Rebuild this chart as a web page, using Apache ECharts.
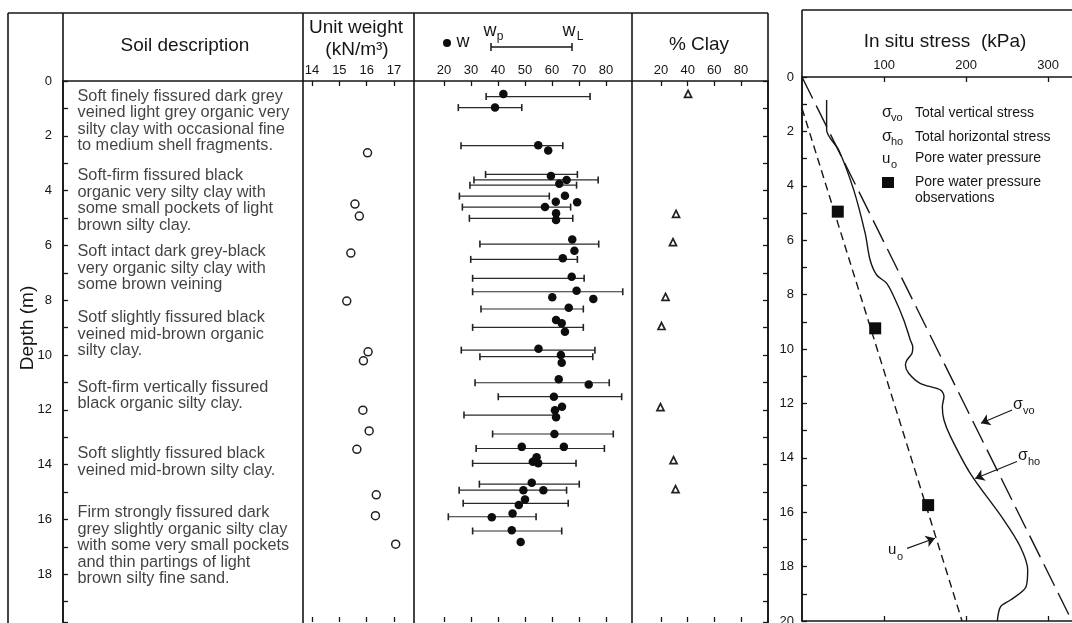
<!DOCTYPE html>
<html>
<head>
<meta charset="utf-8">
<script src="https://cdn.jsdelivr.net/npm/echarts@6/dist/echarts.min.js"></script>
<style>
  html, body { margin: 0; padding: 0; background: #fff; }
  #chart { width: 1072px; height: 623px; }
</style>
</head>
<body>
<div id="chart"></div>
<script>
// ---------- data (depth in m) ----------
const soilLayers = [
  'Soft finely fissured dark grey\nveined light grey organic very\nsilty clay with occasional fine\nto medium shell fragments.',
  'Soft-firm fissured black\norganic very silty clay with\nsome small pockets of light\nbrown silty clay.',
  'Soft intact dark grey-black\nvery organic silty clay with\nsome brown veining',
  'Sotf slightly fissured black\nveined mid-brown organic\nsilty clay.',
  'Soft-firm vertically fissured\nblack organic silty clay.',
  'Soft slightly fissured black\nveined mid-brown silty clay.',
  'Firm strongly fissured dark\ngrey slightly organic silty clay\nwith some very small pockets\nand thin partings of light\nbrown silty fine sand.'
];
const soilLayerTop = [0.28, 3.17, 5.94, 8.35, 10.90, 13.31, 15.47];

const unitWeightDepth = [2.62, 4.49, 4.93, 6.28, 8.03, 9.88, 10.21, 12.01, 12.77, 13.44, 15.10, 15.86, 16.90];
const unitWeight = [16.03, 15.57, 15.73, 15.42, 15.27, 16.05, 15.88, 15.86, 16.09, 15.64, 16.35, 16.32, 17.06];

const limitDepth = [0.57, 0.97, 2.36, 3.41, 3.61, 3.80, 4.20, 4.60, 5.01, 5.95, 6.51, 7.20, 7.69, 8.32,
  8.99, 9.82, 10.06, 11.01, 11.52, 12.19, 12.88, 13.41, 13.95, 14.71, 14.93, 15.41, 15.90, 16.42];
const plasticLimit = [35.6, 25.3, 26.3, 35.4, 31.1, 29.6, 25.7, 26.8, 29.4, 33.3, 29.9, 30.6, 30.6, 33.7,
  30.6, 26.4, 33.3, 31.5, 40.1, 27.4, 38.0, 31.9, 30.6, 33.1, 25.6, 27.1, 21.6, 30.6];
const liquidLimit = [74.1, 48.8, 64.0, 69.4, 77.1, 69.1, 59.0, 66.9, 67.7, 77.3, 69.4, 71.9, 86.2, 71.6,
  71.6, 75.9, 75.1, 81.2, 85.8, 61.7, 82.7, 79.4, 68.9, 70.1, 65.4, 66.0, 54.1, 63.6];

const waterDepth = [0.47, 0.97, 2.34, 2.54, 3.47, 3.61, 3.75, 4.19, 4.41, 4.42, 4.60, 4.83, 5.07, 5.78,
  6.19, 6.47, 7.14, 7.65, 7.89, 7.95, 8.27, 8.72, 8.84, 9.15, 9.77, 10.00, 10.28, 10.88, 11.07, 11.52,
  11.89, 12.01, 12.27, 12.88, 13.35, 13.35, 13.73, 13.95, 13.89, 14.66, 14.93, 14.93, 15.27, 15.47,
  15.78, 15.92, 16.39, 16.82];
const waterContent = [42.0, 38.9, 54.9, 58.6, 59.6, 65.4, 62.7, 64.8, 61.4, 69.3, 57.4, 61.5, 61.5, 67.5,
  68.3, 64.0, 67.3, 69.1, 60.1, 75.3, 66.2, 61.5, 63.6, 64.8, 55.0, 63.3, 63.6, 62.5, 73.6, 60.7,
  63.7, 61.1, 61.5, 60.9, 48.8, 64.4, 54.3, 54.9, 52.9, 52.5, 49.4, 56.8, 50.0, 47.7,
  45.4, 37.7, 45.1, 48.4];

const clayDepth = [0.47, 4.85, 5.88, 7.88, 8.94, 11.90, 13.83, 14.89];
const clayPercent = [40.3, 31.3, 29.0, 23.4, 20.4, 19.6, 29.4, 30.9];

const sigmaVoDepth = [0, 20];
const sigmaVo = [0, 329];
const sigmaHoDepth = [0.85, 1.95, 2.7, 4.15, 5.75, 6.73, 7.28, 7.58, 8.08, 8.93, 9.67, 9.92, 10.16, 10.40,
  10.59, 10.89, 11.26, 11.51, 11.75, 12.12, 12.61, 13.22, 14.57, 16.29, 17.27, 18.12, 18.74, 19.23, 19.47, 20.0];
const sigmaHo = [30, 30, 45, 63, 77, 83, 91, 103, 112, 124, 132, 135, 134, 128,
  126, 130, 144, 169, 173, 171, 173, 181, 205, 246, 266, 275, 273, 254, 242, 238];
const poreDepth = [1.15, 20];
const porePressure = [0, 195];
const obsDepth = [4.95, 9.24, 15.74];
const obsPressure = [43.6, 89.2, 153.7];

const unitWeightTicks = [14, 15, 16, 17];
const waterTicks = [20, 30, 40, 50, 60, 70, 80];
const clayTicks = [20, 40, 60, 80];
const stressTicks = [100, 200, 300];

// ---------- chart ----------
const FONT = '"Liberation Sans", Arial, Helvetica, sans-serif';
const INK = '#161616';
const LEFT_MAX = 19.74;

const chart = echarts.init(document.getElementById('chart'));

const zip = (xs, ys) => xs.map((x, i) => [x, ys[i]]);
const evenDepth = v => (Math.abs(v % 2) < 1e-6 && v <= 20) ? String(v) : '';

function topAxis(grid, min, max, ticks, showLabels) {
  return {
    gridIndex: grid, type: 'value', position: 'top', min: min, max: max,
    axisLine: { show: true, onZero: false, lineStyle: { color: INK, width: 1.6 } },
    axisTick: { show: !!ticks, inside: true, length: 5, customValues: ticks || [], lineStyle: { color: INK, width: 1.3 } },
    axisLabel: { show: showLabels, customValues: ticks || [], margin: 4, fontSize: 13, color: INK, fontFamily: FONT },
    splitLine: { show: false }
  };
}
function bottomAxis(grid, min, max, ticks, showLine) {
  return {
    gridIndex: grid, type: 'value', position: 'bottom', min: min, max: max,
    axisLine: { show: showLine, onZero: false, lineStyle: { color: INK, width: 1.6 } },
    axisTick: { show: true, inside: true, length: 5, customValues: ticks, lineStyle: { color: INK, width: 1.3 } },
    axisLabel: { show: false },
    splitLine: { show: false }
  };
}
function depthAxis(grid, max, extra) {
  return Object.assign({
    gridIndex: grid, type: 'value', inverse: true, min: 0, max: max, interval: 1,
    axisLine: { show: false }, axisTick: { show: false }, axisLabel: { show: false },
    splitLine: { show: false }
  }, extra || {});
}
const depthTicks = { show: true, inside: true, length: 5, lineStyle: { color: INK, width: 1.3 } };
const depthLine = { show: true, onZero: false, lineStyle: { color: INK, width: 1.6 } };

function txt(x, y, s, size, align, extra) {
  return Object.assign({
    type: 'text', x: x, y: y, silent: true,
    style: { text: s, fill: INK, font: size + 'px ' + FONT, align: align || 'left', verticalAlign: 'middle' }
  }, extra || {});
}
function seg(x1, y1, x2, y2, w) {
  return { type: 'line', silent: true, shape: { x1: x1, y1: y1, x2: x2, y2: y2 }, style: { stroke: INK, lineWidth: w || 1.6 } };
}

const grids = [
  { left: 63, top: 81, width: 240, height: 541 },
  { left: 303, top: 81, width: 111, height: 541 },
  { left: 414, top: 81, width: 218, height: 541 },
  { left: 632, top: 81, width: 136, height: 541 },
  { left: 802, top: 77, width: 270, height: 544 }
].map(g => Object.assign(g, { containLabel: false, outerBoundsMode: 'none' }));

const arrowStyle = {
  silent: true, symbol: ['none', 'arrow'], symbolSize: 9, animation: false,
  label: { show: false }, lineStyle: { color: INK, width: 1.1, type: 'solid', opacity: 1 }
};

const option = {
  animation: false,
  backgroundColor: '#fff',
  grid: grids,
  xAxis: [
    topAxis(0, 0, 1, null, false),
    topAxis(1, 13.67, 17.73, unitWeightTicks, true),
    bottomAxis(1, 13.67, 17.73, unitWeightTicks, false),
    topAxis(2, 8.89, 89.63, waterTicks, true),
    bottomAxis(2, 8.89, 89.63, waterTicks, false),
    topAxis(3, -1.75, 100.25, clayTicks, true),
    bottomAxis(3, -1.75, 100.25, clayTicks, false),
    Object.assign(topAxis(4, 0, 329, stressTicks, true), {
      axisLabel: { show: true, customValues: stressTicks, margin: 5, fontSize: 13, color: INK, fontFamily: FONT }
    }),
    bottomAxis(4, 0, 329, stressTicks, true)
  ],
  yAxis: [
    depthAxis(0, LEFT_MAX, {
      position: 'left', axisLine: depthLine, axisTick: depthTicks,
      axisLabel: { show: true, formatter: evenDepth, margin: 11, fontSize: 13, color: INK, fontFamily: FONT }
    }),
    depthAxis(1, LEFT_MAX),
    depthAxis(2, LEFT_MAX),
    depthAxis(3, LEFT_MAX, { position: 'right', axisLine: depthLine, axisTick: depthTicks }),
    depthAxis(4, 20, {
      position: 'left', axisLine: depthLine, axisTick: depthTicks,
      axisLabel: { show: true, formatter: evenDepth, margin: 8, fontSize: 13, color: INK, fontFamily: FONT }
    })
  ],
  series: [
    {
      name: 'Soil description', type: 'scatter', xAxisIndex: 0, yAxisIndex: 0,
      symbolSize: 1, itemStyle: { color: 'rgba(0,0,0,0)' }, silent: true,
      data: soilLayerTop.map(d => [0, d]),
      label: {
        show: true, position: [15, 0], align: 'left', verticalAlign: 'top',
        formatter: p => soilLayers[p.dataIndex],
        fontSize: 16.3, lineHeight: 16.5, color: '#111', fontFamily: FONT
      }
    },
    {
      name: 'Unit weight', type: 'scatter', xAxisIndex: 1, yAxisIndex: 1,
      symbol: 'circle', symbolSize: 8,
      itemStyle: { color: '#fff', borderColor: '#222', borderWidth: 1.5, opacity: 1 },
      data: zip(unitWeight, unitWeightDepth)
    },
    {
      name: 'wp-wL', type: 'custom', xAxisIndex: 3, yAxisIndex: 2,
      encode: { x: [0, 1], y: 2 },
      data: limitDepth.map((d, i) => [plasticLimit[i], liquidLimit[i], d]),
      renderItem: function (params, api) {
        const a = api.coord([api.value(0), api.value(2)]);
        const b = api.coord([api.value(1), api.value(2)]);
        const cap = { stroke: '#222', lineWidth: 1.6 };
        return {
          type: 'group',
          children: [
            { type: 'line', shape: { x1: a[0], y1: a[1], x2: b[0], y2: b[1] }, style: { stroke: '#2a2a2a', lineWidth: 1.2 } },
            { type: 'line', shape: { x1: a[0], y1: a[1] - 3.5, x2: a[0], y2: a[1] + 3.5 }, style: cap },
            { type: 'line', shape: { x1: b[0], y1: b[1] - 3.5, x2: b[0], y2: b[1] + 3.5 }, style: cap }
          ]
        };
      }
    },
    {
      name: 'w', type: 'scatter', xAxisIndex: 3, yAxisIndex: 2, z: 3,
      symbol: 'circle', symbolSize: 8.5, itemStyle: { color: '#0d0d0d', opacity: 1 },
      data: zip(waterContent, waterDepth)
    },
    {
      name: '% Clay', type: 'scatter', xAxisIndex: 5, yAxisIndex: 3,
      symbol: 'triangle', symbolSize: 7,
      itemStyle: { color: '#fff', borderColor: '#222', borderWidth: 1.7, opacity: 1 },
      data: zip(clayPercent, clayDepth)
    },
    {
      name: 'σvo', type: 'line', xAxisIndex: 7, yAxisIndex: 4, symbol: 'none',
      lineStyle: { color: INK, width: 1.4, type: [24, 8] },
      data: zip(sigmaVo, sigmaVoDepth),
      markLine: Object.assign({ data: [[{ coord: [256, 12.24] }, { coord: [218, 12.73] }]] }, arrowStyle)
    },
    {
      name: 'σho', type: 'line', xAxisIndex: 7, yAxisIndex: 4, symbol: 'none', smooth: 0.3,
      lineStyle: { color: INK, width: 1.4 },
      data: zip(sigmaHo, sigmaHoDepth),
      markLine: Object.assign({ data: [[{ coord: [262, 14.14] }, { coord: [211, 14.76] }]] }, arrowStyle)
    },
    {
      name: 'uo', type: 'line', xAxisIndex: 7, yAxisIndex: 4, symbol: 'none',
      lineStyle: { color: INK, width: 1.4, type: [8, 5] },
      data: zip(porePressure, poreDepth),
      markLine: Object.assign({ data: [[{ coord: [128, 17.33] }, { coord: [162, 16.96] }]] }, arrowStyle)
    },
    {
      name: 'Pore water pressure observations', type: 'scatter', xAxisIndex: 7, yAxisIndex: 4, z: 4,
      symbol: 'rect', symbolSize: 12, itemStyle: { color: '#0d0d0d', opacity: 1 },
      data: zip(obsPressure, obsDepth)
    }
  ],
  graphic: [
    // table frame, left panel
    seg(8, 13, 768, 13), seg(8, 13, 8, 623),
    seg(63, 13, 63, 623), seg(303, 13, 303, 623), seg(414, 13, 414, 623),
    seg(632, 13, 632, 623), seg(768, 13, 768, 623),
    // right panel frame
    seg(802, 10, 1072, 10), seg(802, 10, 802, 621),
    // headers
    txt(185, 46, 'Soil description', 19, 'center'),
    txt(356, 28, 'Unit weight', 19, 'center'),
    txt(357, 50, '(kN/m³)', 19, 'center'),
    txt(699, 45, '% Clay', 19, 'center'),
    txt(945, 42, 'In situ stress  (kPa)', 19, 'center'),
    txt(28, 328, 'Depth (m)', 19, 'center', { rotation: Math.PI / 2 }),
    // water-content key
    { type: 'circle', silent: true, shape: { cx: 447, cy: 43, r: 4 }, style: { fill: '#0d0d0d' } },
    txt(463, 42, 'w', 18, 'center'),
    txt(490, 31, 'w', 18, 'center'), txt(500, 37, 'p', 12, 'center'),
    txt(569, 31, 'w', 18, 'center'), txt(580, 37, 'L', 12, 'center'),
    seg(491, 47, 572, 47, 1.3), seg(491, 43, 491, 51, 1.5), seg(572, 43, 572, 51, 1.5),
    // stress key
    txt(882, 113, 'σ', 16), txt(891, 118, 'vo', 11), txt(915, 113, 'Total vertical stress', 14),
    txt(882, 137, 'σ', 16), txt(891, 142, 'ho', 11), txt(915, 137, 'Total horizontal stress', 14),
    txt(882, 159, 'u', 15), txt(891, 165, 'o', 11), txt(915, 158, 'Pore water pressure', 14),
    { type: 'rect', silent: true, shape: { x: 882, y: 177, width: 12, height: 11 }, style: { fill: '#0d0d0d' } },
    txt(915, 182, 'Pore water pressure', 14),
    txt(915, 198, 'observations', 14),
    // curve labels
    txt(1013, 405, 'σ', 16), txt(1023, 411, 'vo', 11),
    txt(1018, 456, 'σ', 16), txt(1028, 462, 'ho', 11),
    txt(888, 550, 'u', 15), txt(897, 557, 'o', 11)
  ]
};

chart.setOption(option);
</script>
</body>
</html>
